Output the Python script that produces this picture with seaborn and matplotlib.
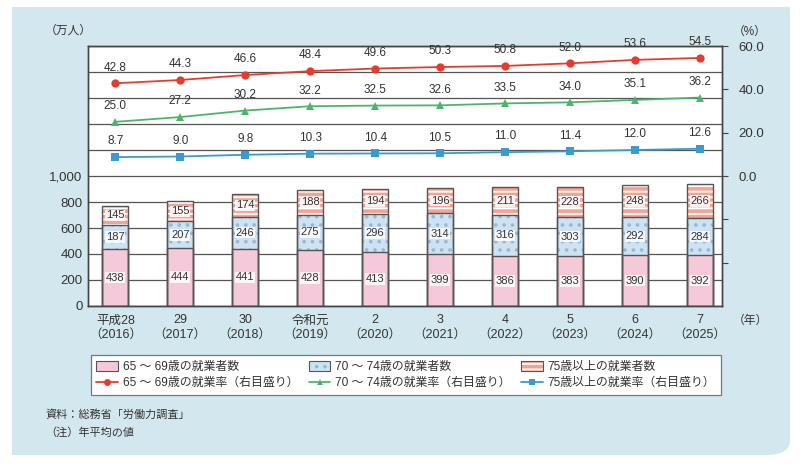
import numpy as np
import matplotlib.pyplot as plt
import matplotlib.patches as mpatches
from matplotlib.lines import Line2D
import seaborn as sns

# data
years = ["平成28\n（2016）", "29\n（2017）", "30\n（2018）", "令和元\n（2019）", "2\n（2020）",
         "3\n（2021）", "4\n（2022）", "5\n（2023）", "6\n（2024）", "7\n（2025）"]
workers_65_69 = [438, 444, 441, 428, 413, 399, 386, 383, 390, 392]
workers_70_74 = [187, 207, 246, 275, 296, 314, 316, 303, 292, 284]
workers_75 = [145, 155, 174, 188, 194, 196, 211, 228, 248, 266]
rate_65_69 = [42.8, 44.3, 46.6, 48.4, 49.6, 50.3, 50.8, 52.0, 53.6, 54.5]
rate_70_74 = [25.0, 27.2, 30.2, 32.2, 32.5, 32.6, 33.5, 34.0, 35.1, 36.2]
rate_75 = [8.7, 9.0, 9.8, 10.3, 10.4, 10.5, 11.0, 11.4, 12.0, 12.6]

sns.set_style("white")
plt.rcParams['font.family'] = ['Liberation Sans', 'Noto Sans CJK JP', 'DejaVu Sans']
plt.rcParams['hatch.linewidth'] = 1.4

PINK = "#f5c8da"
LBLUE = "#cde2f2"
SALMON = "#f4a293"
RED = "#e63c2f"
GREEN = "#4db56a"
BLUE = "#3a9bd2"
EDGE = "#555555"
TXT = "#333333"
DOT = "#9ab8d2"

fig = plt.figure(figsize=(8, 4.73), dpi=100)

# light blue panel, rounded bottom-right corner
pc = "#d3e8ee"
x0, y0, x1, y1 = 12 / 800, 1 - 455 / 473, 790 / 800, 1 - 7 / 473
r = 0.03
fig.patches.append(mpatches.FancyBboxPatch((x0, y0), x1 - x0, y1 - y0,
                   boxstyle="round,pad=0,rounding_size=0.03", transform=fig.transFigure,
                   facecolor=pc, edgecolor="none", zorder=-10))
fig.patches.append(mpatches.Rectangle((x0, y0 + r * 1.7), x1 - x0, y1 - y0 - r * 1.7,
                   transform=fig.transFigure, facecolor=pc, edgecolor="none", zorder=-10))
fig.patches.append(mpatches.Rectangle((x0, y0), x1 - x0 - r, y1 - y0,
                   transform=fig.transFigure, facecolor=pc, edgecolor="none", zorder=-10))

ax = fig.add_axes([88 / 800, 1 - 306 / 473, 634 / 800, 260 / 473])
ax.set_facecolor("white")

tot = np.array(workers_65_69) + np.array(workers_70_74) + np.array(workers_75)
mid = np.array(workers_65_69) + np.array(workers_70_74)
bot = np.array(workers_65_69)

bw = 0.4
sns.barplot(x=years, y=tot, ax=ax, color=SALMON, saturation=1, width=bw,
            edgecolor="white", linewidth=0, hatch="---", zorder=2)
sns.barplot(x=years, y=mid, ax=ax, color=LBLUE, saturation=1, width=bw,
            edgecolor=DOT, linewidth=0, hatch="..", zorder=3)
sns.barplot(x=years, y=bot, ax=ax, color=PINK, saturation=1, width=bw,
            linewidth=0, zorder=4)

# outlines of the stacked segments
for p in list(ax.patches):
    ax.add_patch(mpatches.Rectangle(p.get_xy(), p.get_width(), p.get_height(),
                                    fill=False, edgecolor=EDGE, linewidth=1.0, zorder=5))

xs = np.arange(len(years))
lab_kw = dict(ha="center", va="center", fontsize=8, color=TXT, zorder=6,
              bbox=dict(facecolor="white", edgecolor="none", pad=0.6, alpha=0.85))
for i in xs:
    ax.text(i, bot[i] / 2, str(workers_65_69[i]), **lab_kw)
    ax.text(i, bot[i] + workers_70_74[i] / 2, str(workers_70_74[i]), **lab_kw)
    ax.text(i, mid[i] + workers_75[i] / 2, str(workers_75[i]), **lab_kw)

ax.set_ylim(0, 2000)
ax.set_yticks(np.arange(0, 2001, 200))
ax.set_yticklabels(["0", "200", "400", "600", "800", "1,000", "", "", "", "", ""], fontsize=9.5, color=TXT)
ax.yaxis.grid(True, color=EDGE, linewidth=0.9)
ax.set_axisbelow(True)
ax.set_xlim(-0.42, 9.34)
ax.set_xticks(xs)
ax.set_xticklabels(years, fontsize=9, color=TXT, linespacing=1.3)
ax.tick_params(axis="both", length=0, pad=4)
ax.tick_params(axis="x", pad=6)
ax.set_xlabel("")
ax.set_ylabel("")
for s in ax.spines.values():
    s.set_color("#444444")
    s.set_linewidth(1.0)

ax2 = ax.twinx()
for rate, col, mk in [(rate_65_69, RED, "o"), (rate_70_74, GREEN, "^"), (rate_75, BLUE, "s")]:
    sns.lineplot(x=xs, y=rate, ax=ax2, color=col, marker=mk, markersize=6,
                 markeredgewidth=0, linewidth=1.3, legend=False)
    for i, v in zip(xs, rate):
        ax2.annotate(f"{v:.1f}", (i, v), xytext=(0, 7), textcoords="offset points",
                     ha="center", va="bottom", fontsize=8.5, color=TXT)
ax2.set_ylim(-60, 60)
ax2.set_yticks([-40, -20, 0, 20, 40, 60])
ax2.set_yticklabels(["", "", "0.0", "20.0", "40.0", "60.0"], fontsize=9.5, color=TXT)
ax2.tick_params(axis="y", length=4, direction="out", color="#444444", pad=8)
ax2.set_xlim(-0.42, 9.34)
ax2.set_ylabel("")
for s in ax2.spines.values():
    s.set_color("#444444")
    s.set_linewidth(1.0)

fig.text(45 / 800, 1 - 31 / 473, "（万人）", fontsize=8.5, color=TXT, ha="left", va="center")
fig.text(733 / 800, 1 - 32 / 473, "（%）", fontsize=8.5, color=TXT, ha="left", va="center")
fig.text(733 / 800, 1 - 321 / 473, "（年）", fontsize=8.5, color=TXT, ha="left", va="center")
fig.text(45 / 800, 1 - 415 / 473, "資料：総務省「労働力調査」", fontsize=8, color=TXT, ha="left", va="center")
fig.text(45 / 800, 1 - 432 / 473, "（注）年平均の値", fontsize=8, color=TXT, ha="left", va="center")


def outline():
    return mpatches.Patch(fill=False, edgecolor=EDGE, linewidth=0.8)


handles = [
    (mpatches.Patch(facecolor=PINK, linewidth=0), outline()),
    Line2D([], [], color=RED, marker="o", markersize=5, markeredgewidth=0, lw=1.3),
    (mpatches.Patch(facecolor=LBLUE, edgecolor=DOT, hatch="..", linewidth=0), outline()),
    Line2D([], [], color=GREEN, marker="^", markersize=5, markeredgewidth=0, lw=1.3),
    (mpatches.Patch(facecolor=SALMON, edgecolor="white", hatch="---", linewidth=0), outline()),
    Line2D([], [], color=BLUE, marker="s", markersize=5, markeredgewidth=0, lw=1.3),
]
labels = ["65 ～ 69歳の就業者数", "65 ～ 69歳の就業率（右目盛り）",
          "70 ～ 74歳の就業者数", "70 ～ 74歳の就業率（右目盛り）",
          "75歳以上の就業者数", "75歳以上の就業率（右目盛り）"]
leg = fig.legend(handles, labels, ncol=3, loc="center left",
                 bbox_to_anchor=(91 / 800, 1 - 375 / 473),
                 fontsize=8.6, frameon=True, fancybox=False, edgecolor="#777777", framealpha=1,
                 handlelength=1.8, handleheight=0.9, handletextpad=0.4, columnspacing=0.9,
                 labelspacing=0.35, borderaxespad=0, borderpad=0.45)
leg.get_frame().set_linewidth(0.9)
for t in leg.get_texts():
    t.set_color(TXT)

fig.savefig("out.png", dpi=100)
